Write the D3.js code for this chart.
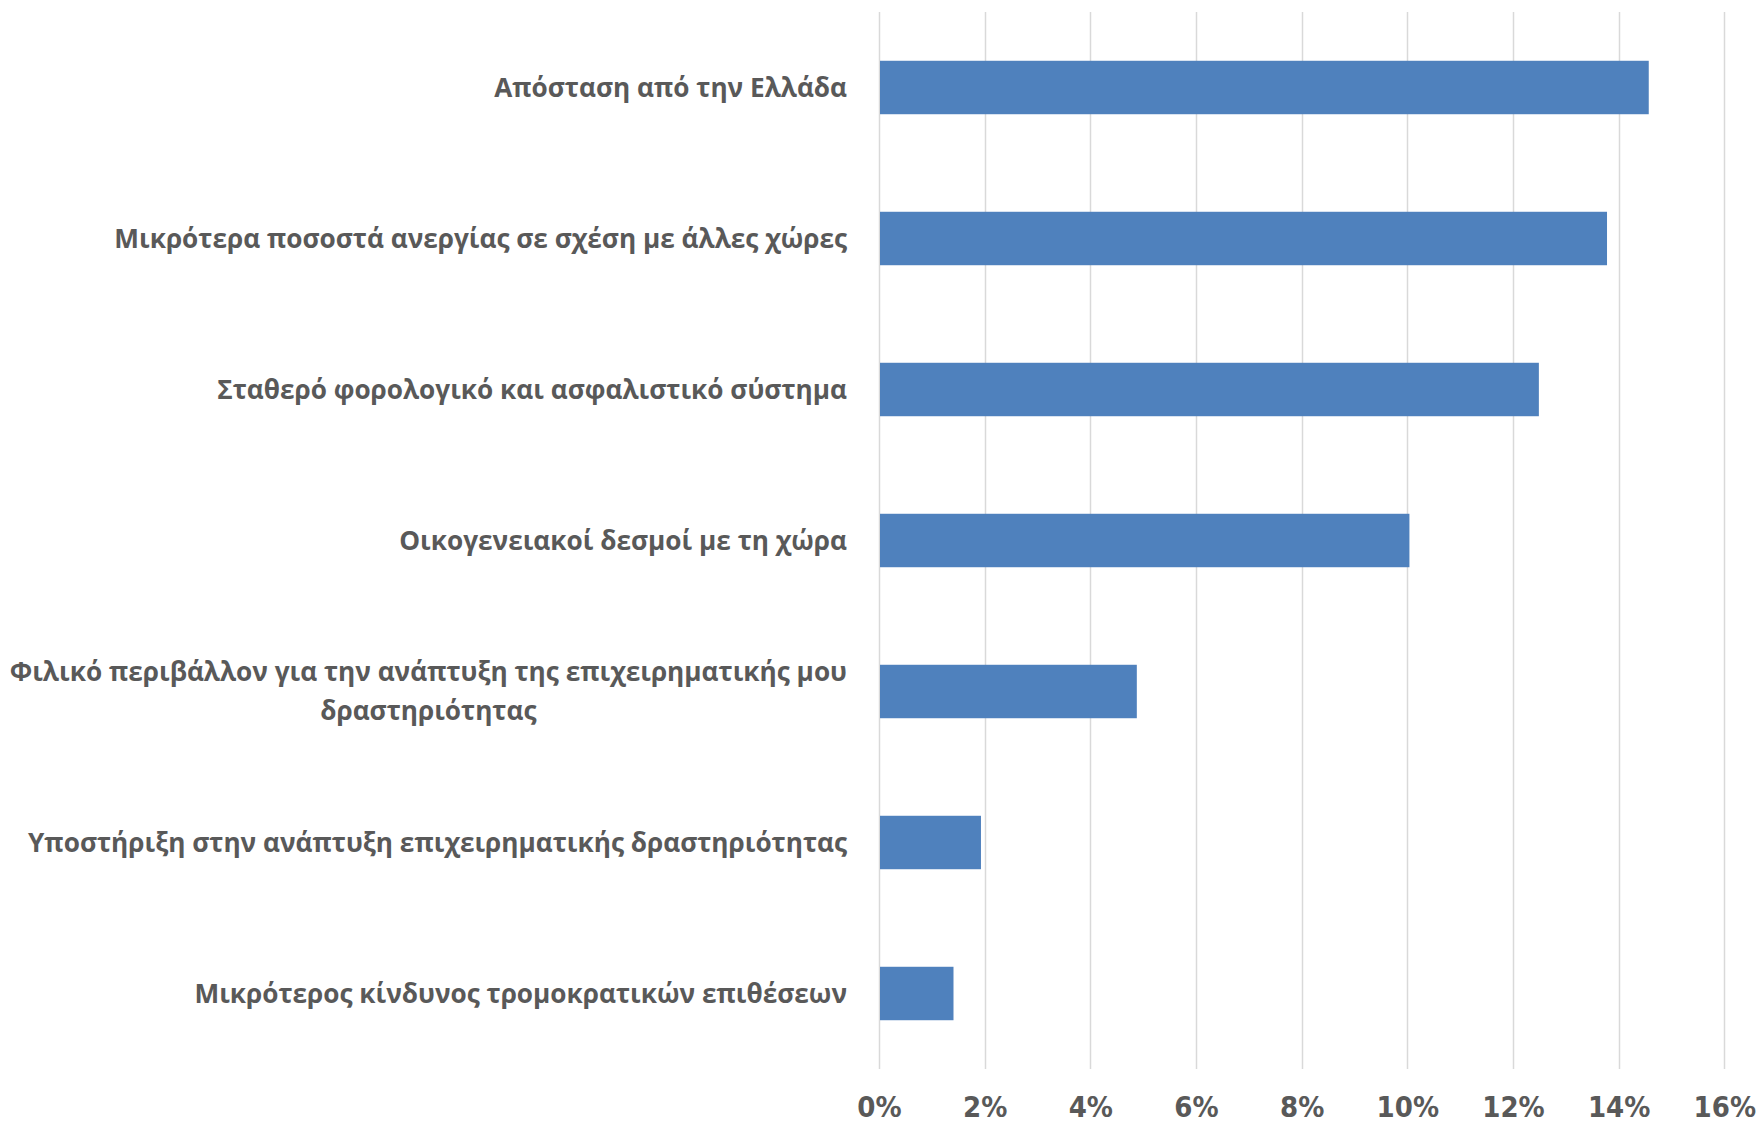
<!DOCTYPE html>
<html>
<head>
<meta charset="utf-8">
<script src="https://cdn.jsdelivr.net/npm/d3@7"></script>
<style>
  html, body { margin: 0; padding: 0; background: #ffffff; }
  svg { display: block; }
</style>
</head>
<body>
<svg id="chart" width="1758" height="1124"></svg>
<script>
const categories = [
  "Απόσταση από την Ελλάδα",
  "Μικρότερα ποσοστά ανεργίας σε σχέση με άλλες χώρες",
  "Σταθερό φορολογικό και ασφαλιστικό σύστημα",
  "Οικογενειακοί δεσμοί με τη χώρα",
  "Φιλικό περιβάλλον για την ανάπτυξη της επιχειρηματικής μου δραστηριότητας",
  "Υποστήριξη στην ανάπτυξη επιχειρηματικής δραστηριότητας",
  "Μικρότερος κίνδυνος τρομοκρατικών επιθέσεων"
];
const values = [14.57, 13.78, 12.49, 10.04, 4.88, 1.93, 1.41];
const tickValues = [0, 2, 4, 6, 8, 10, 12, 14, 16];

(function () {
const svg = d3.select("#chart");
const plotLeft = 879, plotRight = 1724.3, plotTop = 12, plotBottom = 1069;

const x = d3.scaleLinear().domain([0, 16]).range([plotLeft, plotRight]);
const y = d3.scaleBand().domain(categories).range([plotTop, plotBottom])
  .paddingInner(0.646).paddingOuter(0.323);

// gridlines
svg.append("g").selectAll("line").data(tickValues).join("line")
  .attr("x1", d => Math.round(x(d)) + 0.5).attr("x2", d => Math.round(x(d)) + 0.5)
  .attr("y1", plotTop).attr("y2", plotBottom)
  .attr("stroke", "#d9d9d9").attr("stroke-width", 1.5);

// bars
svg.append("g").selectAll("rect").data(values).join("rect")
  .attr("x", x(0) + 1)
  .attr("y", (d, i) => y(categories[i]))
  .attr("width", d => x(d) - x(0) - 1)
  .attr("height", y.bandwidth())
  .attr("fill", "#4f81bd");

// x axis tick labels
const xAxis = d3.axisBottom(x).tickValues(tickValues).tickSize(0).tickFormat(d => d + "%");
const gx = svg.append("g").attr("transform", `translate(0, ${plotBottom})`).call(xAxis);
gx.select(".domain").remove();
gx.selectAll("text")
  .attr("dy", null).attr("y", 48)
  .attr("font-family", "'Liberation Sans Narrow', 'DejaVu Sans', sans-serif")
  .style("font-stretch", "condensed")
  .attr("font-weight", "bold").attr("font-size", 29).attr("fill", "#595959");

// category labels
const labelX = 847, maxW = 860, lineH = 39;
const font = "'Open Sans', sans-serif", fsize = 26.2;
const gy = svg.append("g");
function measure(s) {
  const m = gy.append("text").attr("font-family", font)
    .attr("font-weight", "bold").attr("font-size", fsize).text(s);
  const w = m.node().getComputedTextLength(); m.remove(); return w;
}
categories.forEach((c) => {
  const cy = y(c) + y.bandwidth() / 2;
  const words = c.split(" ");
  const lines = [];
  let cur = [];
  words.forEach(w => {
    const trial = cur.concat([w]).join(" ");
    if (measure(trial) > maxW && cur.length) {
      lines.push(cur.join(" "));
      cur = [w];
    } else cur.push(w);
  });
  lines.push(cur.join(" "));
  const maxLine = d3.max(lines, measure);
  const centerX = labelX - maxLine / 2;
  lines.forEach((l, k) => {
    gy.append("text")
      .attr("font-family", font)
      .attr("font-weight", "bold").attr("font-size", fsize).attr("fill", "#595959")
      .attr("text-anchor", lines.length === 1 ? "end" : "middle")
      .attr("x", lines.length === 1 ? labelX : centerX)
      .attr("y", cy + (k - (lines.length - 1) / 2) * lineH)
      .attr("dy", "0.35em").text(l);
  });
});
})();
</script>
</body>
</html>
